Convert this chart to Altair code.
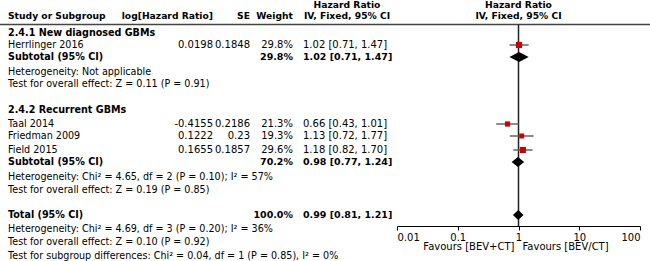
import altair as alt
import pandas as pd

# ------------------------------------------------------------------ data
group_labels = ["2.4.1 New diagnosed GBMs", "2.4.2 Recurrent GBMs"]
studies = ["Herrlinger 2016", "Taal 2014", "Friedman 2009", "Field 2015"]
log_hr = ["0.0198", "-0.4155", "0.1222", "0.1655"]
se = ["0.1848", "0.2186", "0.23", "0.1857"]
weights = [29.8, 21.3, 19.3, 29.6]
hr = [1.02, 0.66, 1.13, 1.18]
hr_lo = [0.71, 0.43, 0.72, 0.82]
hr_hi = [1.47, 1.01, 1.77, 1.70]

summary_labels = ["Subtotal (95% CI)", "Subtotal (95% CI)", "Total (95% CI)"]
summary_weights = [29.8, 70.2, 100.0]
summary_hr = [1.02, 0.98, 0.99]
summary_lo = [0.71, 0.77, 0.81]
summary_hi = [1.47, 1.24, 1.21]

notes = [
    "Heterogeneity: Not applicable",
    "Test for overall effect: Z = 0.11 (P = 0.91)",
    "Heterogeneity: Chi\u00b2 = 4.65, df = 2 (P = 0.10); I\u00b2 = 57%",
    "Test for overall effect: Z = 0.19 (P = 0.85)",
    "Heterogeneity: Chi\u00b2 = 4.69, df = 3 (P = 0.20); I\u00b2 = 36%",
    "Test for overall effect: Z = 0.10 (P = 0.92)",
    "Test for subgroup differences: Chi\u00b2 = 0.04, df = 1 (P = 0.85), I\u00b2 = 0%",
]

headers = ["Study or Subgroup", "log[Hazard Ratio]", "SE", "Weight"]
ci_header = ["Hazard Ratio", "IV, Fixed, 95% CI"]
favours = ["Favours [BEV+CT]", "Favours [BEV/CT]"]
tick_values = [0.01, 0.1, 1, 10, 100]
null_value = [1]

# ------------------------------------------------------------------ layout
W, H = 650, 261
FONT = "DejaVu Sans"
FS_TXT = 9.6      # regular words
FS_NUM = 10       # regular numbers
FS_HEAD = 9.2     # bold column headers
FS_BOLD = 9.6     # bold words in the body
FS_BNUM = 9.5     # bold numbers
FS_AX = 10
head_y = [5, 16]
group_y = [33, 110]
study_y = [45, 124, 136, 150]
summary_y = [57, 162, 215]
note_y = [72, 84, 177, 190, 229, 242, 256]
fav_y = 247
rule_y = 24.5
axis_y = 226
X_STUDY, X_LOG, X_SE, X_W, X_CI, X_CIH = 8, 213, 250, 293, 303, 347

Y = alt.Y("y:Q", scale=alt.Scale(domain=[0, H], range=[0, H], nice=False, zero=False), axis=None)
XS = alt.Scale(type="log", domain=[0.01, 100], range=[397, 640], nice=False)
AX = alt.Axis(values=tick_values, format="~g", orient="bottom", offset=axis_y - H,
              domainColor="#000", domainWidth=1, tickColor="#000", tickSize=4, tickWidth=1,
              labelFont=FONT, labelFontSize=FS_AX, labelColor="#000", labelPadding=2,
              labelFlush=True, grid=False, title=None)


def text_layer(texts, ys, x, align, size, bold=False):
    df = pd.DataFrame({"t": texts, "y": ys})
    return alt.Chart(df).mark_text(
        align=align, baseline="middle", font=FONT, fontSize=size,
        fontWeight="bold" if bold else "normal", color="#000"
    ).encode(x=alt.value(x), y=Y, text="t:N")


layers = []
# header texts
layers.append(text_layer([headers[0]], [head_y[1]], X_STUDY, "left", FS_HEAD, True))
layers.append(text_layer([headers[1]], [head_y[1]], X_LOG, "right", FS_HEAD, True))
layers.append(text_layer([headers[2]], [head_y[1]], X_SE, "right", FS_HEAD, True))
layers.append(text_layer([headers[3]], [head_y[1]], X_W, "right", FS_HEAD, True))
layers.append(text_layer(ci_header, head_y, X_CIH, "center", FS_HEAD, True))

# study / group / summary / notes column
layers.append(text_layer(group_labels, group_y, X_STUDY, "left", FS_BOLD, True))
layers.append(text_layer(studies, study_y, X_STUDY, "left", FS_TXT))
layers.append(text_layer(summary_labels, summary_y, X_STUDY, "left", FS_BOLD, True))
layers.append(text_layer(notes, note_y, X_STUDY, "left", FS_TXT))

# numeric columns
layers.append(text_layer(log_hr, study_y, X_LOG, "right", FS_NUM))
layers.append(text_layer(se, study_y, X_SE, "right", FS_NUM))
layers.append(text_layer([f"{w:.1f}%" for w in weights], study_y, X_W, "right", FS_NUM))
layers.append(text_layer([f"{w:.1f}%" for w in summary_weights], summary_y, X_W, "right",
                         FS_BNUM, True))
layers.append(text_layer([f"{h:.2f} [{l:.2f}, {u:.2f}]" for h, l, u in zip(hr, hr_lo, hr_hi)],
                         study_y, X_CI, "left", FS_NUM))
layers.append(text_layer([f"{h:.2f} [{l:.2f}, {u:.2f}]" for h, l, u in
                          zip(summary_hr, summary_lo, summary_hi)],
                         summary_y, X_CI, "left", FS_BNUM, True))

# header rule
layers.append(alt.Chart(pd.DataFrame({"a": [0]})).mark_rule(color="#444", strokeWidth=1.5).encode(
    x=alt.value(0), x2=alt.value(W), y=alt.value(rule_y)))

# forest header
fh = pd.DataFrame({"x": null_value * 2, "y": head_y, "t": ci_header})
layers.append(alt.Chart(fh).mark_text(align="center", baseline="middle", font=FONT, fontSize=FS_HEAD,
                                      fontWeight="bold", color="#000").encode(
    x=alt.X("x:Q", scale=XS, axis=AX), y=Y, text="t:N"))

# null line
layers.append(alt.Chart(pd.DataFrame({"x": null_value})).mark_rule(color="#222", strokeWidth=1.5).encode(
    x=alt.X("x:Q", scale=XS, axis=AX), y=alt.value(rule_y), y2=alt.value(axis_y)))

# CI lines
sd = pd.DataFrame({"hr": hr, "lo": hr_lo, "hi": hr_hi, "w": weights, "y": study_y})
layers.append(alt.Chart(sd).mark_rule(color="#666", strokeWidth=1.5).encode(
    x=alt.X("lo:Q", scale=XS, axis=AX), x2="hi:Q", y=Y))
# squares
layers.append(alt.Chart(sd).mark_square(color="#cc0000", opacity=1, filled=True).encode(
    x=alt.X("hr:Q", scale=XS, axis=AX), y=Y,
    size=alt.Size("w:Q", scale=alt.Scale(domain=[0, 30], range=[0, 38]), legend=None)))

# diamonds
half = 5
rows = []
for i, (e, l, u, yy) in enumerate(zip(summary_hr, summary_lo, summary_hi, summary_y)):
    rows.append({"id": i, "x": l, "y": yy, "y2": yy})
    rows.append({"id": i, "x": e, "y": yy - half, "y2": yy + half})
    rows.append({"id": i, "x": u, "y": yy, "y2": yy})
dd = pd.DataFrame(rows)
layers.append(alt.Chart(dd).mark_area(color="#000", opacity=1, interpolate="linear").encode(
    x=alt.X("x:Q", scale=XS, axis=AX), y=Y, y2="y2:Q", detail="id:N"))

# favours labels
fv = pd.DataFrame({"x": null_value, "y": [fav_y]})
layers.append(alt.Chart(fv).mark_text(align="right", baseline="middle", font=FONT, fontSize=FS_AX,
                                      color="#000", dx=-4, text=favours[0]).encode(
    x=alt.X("x:Q", scale=XS, axis=AX), y=Y))
layers.append(alt.Chart(fv).mark_text(align="left", baseline="middle", font=FONT, fontSize=FS_AX,
                                      color="#000", dx=4, text=favours[1]).encode(
    x=alt.X("x:Q", scale=XS, axis=AX), y=Y))

chart = alt.layer(*layers).properties(
    width=W, height=H, padding=0, autosize=alt.AutoSizeParams(type="none"),
    background="white"
).configure_view(stroke=None)

chart.save("out.html", embed_options={"renderer": "svg", "actions": False})
